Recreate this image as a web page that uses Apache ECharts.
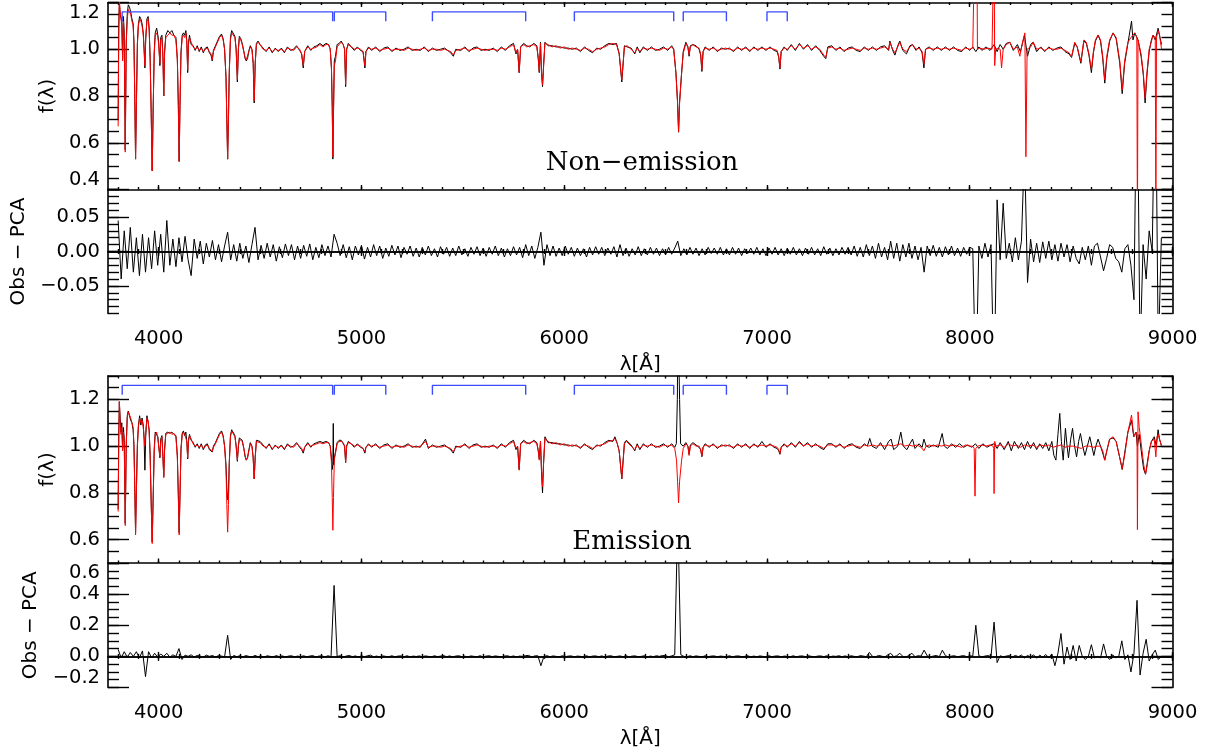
<!DOCTYPE html>
<html>
<head>
<meta charset="utf-8">
<script src="https://cdn.jsdelivr.net/npm/echarts@6/dist/echarts.min.js"></script>
<style>
html, body { margin: 0; padding: 0; background: #fff; }
#chart { width: 1210px; height: 752px; }
</style>
</head>
<body>
<div id="chart"></div>
<script>
// normalised spectra, [wavelength, flux]
var pcaNon = [[3800,0.67],[3803,1.05],[3806,1.21],[3810,1.16],[3814,1.13],[3818,1.10],[3822,0.95],[3826,1.12],[3830,1.05],[3835,0.56],[3840,1.02],[3845,1.13],[3850,1.17],[3856,1.17],[3862,1.15],[3868,1.12],[3874,1.10],[3878,1.02],[3882,0.80],[3886,0.53],[3890,0.75],[3895,1.02],[3900,1.10],[3906,1.13],[3912,1.12],[3918,1.10],[3924,1.06],[3928,1.00],[3932,0.93],[3936,1.05],[3942,1.12],[3948,1.13],[3953,1.08],[3958,0.95],[3963,0.72],[3968,0.48],[3973,0.75],[3978,0.98],[3983,1.06],[3990,1.07],[3996,1.05],[4000,1.02],[4006,0.94],[4010,1.04],[4016,1.05],[4021,0.96],[4025,0.80],[4029,0.98],[4035,1.05],[4045,1.06],[4055,1.07],[4065,1.06],[4075,1.06],[4085,1.04],[4092,0.95],[4097,0.75],[4101,0.52],[4105,0.75],[4110,0.98],[4116,1.05],[4122,1.06],[4128,1.05],[4134,1.07],[4139,1.02],[4143,0.91],[4147,1.02],[4152,1.05],[4160,1.03],[4170,1.01],[4180,1.0],[4190,1.01],[4200,0.995],[4210,1.005],[4220,0.99],[4230,1.0],[4240,1.005],[4250,0.99],[4258,0.98],[4264,0.955],[4270,0.99],[4280,1.01],[4290,1.03],[4300,1.05],[4310,1.06],[4318,1.04],[4325,1.0],[4332,0.88],[4336,0.70],[4340,0.53],[4344,0.70],[4348,0.90],[4354,1.04],[4360,1.07],[4368,1.07],[4376,1.05],[4382,1.0],[4388,0.87],[4393,1.0],[4398,1.05],[4405,1.04],[4412,1.02],[4420,0.99],[4426,0.965],[4432,0.955],[4438,0.96],[4445,0.99],[4452,1.01],[4460,1.0],[4466,0.94],[4471,0.78],[4476,0.94],[4482,1.02],[4490,1.03],[4500,1.02],[4515,1.0],[4530,0.995],[4545,1.005],[4560,0.99],[4575,1.0],[4590,0.995],[4605,1.0],[4620,0.99],[4635,1.005],[4650,1.0],[4665,0.995],[4680,1.01],[4695,1.0],[4705,0.98],[4713,0.93],[4720,0.99],[4735,1.01],[4750,1.0],[4765,1.005],[4780,1.01],[4795,1.02],[4810,1.01],[4825,1.02],[4838,1.02],[4846,1.0],[4852,0.92],[4856,0.75],[4859,0.54],[4862,0.72],[4866,0.93],[4872,0.95],[4880,1.01],[4890,1.02],[4900,1.03],[4910,1.02],[4917,1.0],[4922,0.85],[4927,1.0],[4935,1.02],[4950,1.01],[4965,1.0],[4980,1.005],[4995,1.0],[5008,0.99],[5017,0.93],[5022,0.99],[5035,1.005],[5050,1.0],[5070,1.005],[5090,0.995],[5110,1.0],[5130,1.005],[5150,0.995],[5170,1.0],[5190,1.0],[5210,0.995],[5230,1.005],[5250,1.0],[5270,0.995],[5290,1.0],[5310,1.005],[5330,0.995],[5350,1.0],[5370,1.0],[5390,0.995],[5410,1.0],[5440,0.99],[5453,0.976],[5465,0.995],[5490,1.0],[5510,1.005],[5530,0.995],[5550,1.0],[5570,1.005],[5590,1.0],[5610,0.995],[5630,1.0],[5650,1.0],[5670,0.995],[5690,1.005],[5710,1.0],[5730,1.01],[5750,1.02],[5762,0.985],[5770,1.0],[5778,0.90],[5785,1.01],[5800,1.02],[5815,1.01],[5830,1.015],[5850,1.02],[5865,1.01],[5872,0.96],[5877,0.905],[5883,1.026],[5888,0.90],[5893,0.847],[5898,0.92],[5905,1.026],[5920,1.02],[5940,1.01],[5960,1.015],[5980,1.005],[6000,1.01],[6020,1.0],[6040,1.005],[6060,1.0],[6080,0.995],[6100,1.005],[6120,1.0],[6140,0.99],[6160,1.0],[6180,1.005],[6200,1.01],[6220,1.02],[6240,1.025],[6258,1.02],[6271,0.983],[6284,0.869],[6297,1.01],[6310,1.015],[6330,1.0],[6348,0.985],[6360,1.005],[6373,0.99],[6390,1.005],[6410,1.0],[6430,1.005],[6450,1.0],[6470,0.995],[6490,1.005],[6510,1.0],[6530,1.01],[6540,1.0],[6551,0.898],[6559,0.77],[6564,0.648],[6569,0.77],[6579,0.898],[6587,0.983],[6600,1.025],[6610,1.01],[6616,0.976],[6622,1.01],[6635,1.02],[6650,1.01],[6665,1.005],[6673,0.98],[6679,0.912],[6685,0.99],[6695,1.005],[6715,1.0],[6735,1.005],[6755,0.995],[6775,1.0],[6795,1.005],[6815,1.0],[6835,0.995],[6855,1.005],[6875,1.0],[6895,1.005],[6915,0.995],[6935,1.005],[6955,1.0],[6975,1.005],[6995,1.0],[7015,1.005],[7035,1.0],[7050,0.995],[7058,0.97],[7064,0.92],[7070,0.99],[7085,1.005],[7100,1.0],[7120,1.015],[7140,1.0],[7160,1.02],[7180,1.005],[7200,1.015],[7220,1.0],[7240,1.01],[7260,1.0],[7280,0.975],[7290,0.965],[7300,1.005],[7320,1.01],[7340,1.0],[7360,1.005],[7380,0.995],[7400,1.0],[7420,1.005],[7440,1.0],[7460,0.995],[7480,1.005],[7500,1.0],[7520,1.005],[7540,1.0],[7560,1.005],[7580,1.01],[7600,1.0],[7606,1.03],[7620,1.0],[7631,0.985],[7645,1.01],[7655,1.03],[7670,1.0],[7688,0.99],[7705,1.01],[7718,1.02],[7735,1.0],[7750,1.005],[7765,0.99],[7774,0.935],[7782,1.0],[7800,1.005],[7820,1.0],[7840,1.005],[7860,1.0],[7880,1.005],[7900,1.0],[7920,1.005],[7940,1.0],[7960,0.995],[7980,1.005],[8000,1.0],[8015,1.005],[8023,1.0],[8025,1.5],[8035,1.5],[8038,1.0],[8050,1.005],[8070,1.0],[8090,1.005],[8110,1.0],[8118,1.0],[8120,1.5],[8123,0.93],[8128,1.0],[8140,1.005],[8150,1.0],[8157,0.92],[8165,1.0],[8180,1.02],[8198,1.03],[8215,1.0],[8235,1.01],[8247,0.97],[8258,1.02],[8272,1.07],[8277,0.54],[8283,1.0],[8300,1.01],[8313,1.03],[8330,1.0],[8350,1.005],[8370,0.995],[8390,1.005],[8410,1.0],[8430,1.0],[8450,1.005],[8470,0.995],[8490,0.985],[8502,0.968],[8510,1.0],[8518,1.03],[8530,1.01],[8540,0.975],[8548,0.947],[8555,0.99],[8563,1.04],[8575,1.03],[8588,0.98],[8600,0.914],[8610,0.99],[8620,1.04],[8633,1.061],[8645,1.04],[8656,0.97],[8666,0.869],[8676,0.97],[8690,1.04],[8707,1.069],[8722,1.05],[8740,0.95],[8752,0.826],[8764,0.95],[8780,1.03],[8798,1.054],[8814,1.07],[8824,1.05],[8827,0.2],[8830,1.04],[8845,0.98],[8856,0.9],[8865,0.79],[8874,0.9],[8885,1.0],[8896,1.033],[8904,1.06],[8915,1.05],[8918,0.2],[8921,1.05],[8929,1.08],[8936,1.06],[8946,1.0]]

var obsNon = [[3800,0.7],[3803,1.1],[3806,1.2],[3810,1.15],[3814,1.15],[3818,1.12],[3822,0.96],[3826,1.14],[3830,1.07],[3835,0.57],[3840,1.03],[3845,1.15],[3850,1.19],[3856,1.18],[3862,1.16],[3868,1.13],[3874,1.11],[3878,1.03],[3882,0.81],[3886,0.53],[3890,0.76],[3895,1.03],[3900,1.11],[3906,1.14],[3912,1.13],[3918,1.11],[3924,1.07],[3928,1.0],[3932,0.92],[3936,1.04],[3942,1.13],[3948,1.14],[3953,1.09],[3958,0.96],[3963,0.73],[3968,0.48],[3973,0.76],[3978,0.99],[3983,1.07],[3990,1.09],[3996,1.06],[4000,1.03],[4006,0.93],[4010,1.05],[4016,1.06],[4021,0.97],[4025,0.80],[4029,0.99],[4035,1.06],[4045,1.08],[4055,1.07],[4065,1.08],[4075,1.06],[4085,1.05],[4092,0.96],[4097,0.76],[4101,0.52],[4105,0.76],[4110,0.99],[4116,1.06],[4122,1.07],[4128,1.06],[4134,1.08],[4139,1.03],[4143,0.9],[4147,1.03],[4152,1.06],[4160,1.02],[4170,1.015],[4180,0.995],[4190,1.015],[4200,0.99],[4210,1.01],[4220,0.985],[4230,1.005],[4240,1.01],[4250,0.985],[4258,0.975],[4264,0.95],[4270,0.995],[4280,1.015],[4290,1.035],[4300,1.055],[4310,1.065],[4318,1.045],[4325,1.0],[4332,0.88],[4336,0.7],[4340,0.53],[4344,0.7],[4348,0.9],[4354,1.05],[4360,1.08],[4368,1.075],[4376,1.055],[4382,1.0],[4388,0.86],[4393,1.0],[4398,1.055],[4405,1.045],[4412,1.025],[4420,0.99],[4426,0.96],[4432,0.95],[4438,0.96],[4445,0.995],[4452,1.015],[4460,1.0],[4466,0.94],[4471,0.77],[4476,0.94],[4482,1.025],[4490,1.035],[4500,1.02],[4515,1.005],[4530,0.99],[4545,1.01],[4560,0.985],[4575,1.005],[4590,0.99],[4605,1.005],[4620,0.985],[4635,1.01],[4650,0.995],[4665,1.0],[4680,1.015],[4695,0.995],[4705,0.98],[4713,0.92],[4720,0.99],[4735,1.015],[4750,0.995],[4765,1.01],[4780,1.015],[4795,1.025],[4810,1.015],[4825,1.025],[4838,1.02],[4846,1.0],[4852,0.92],[4856,0.75],[4859,0.53],[4862,0.73],[4866,0.95],[4872,0.97],[4880,1.02],[4890,1.025],[4900,1.035],[4910,1.02],[4917,1.0],[4922,0.84],[4927,1.0],[4935,1.025],[4950,1.01],[4965,0.995],[4980,1.01],[4995,0.995],[5008,0.99],[5017,0.92],[5022,0.99],[5035,1.01],[5050,0.995],[5070,1.01],[5090,0.99],[5110,1.005],[5130,1.01],[5150,0.99],[5170,1.005],[5190,0.995],[5210,1.0],[5230,1.01],[5250,0.995],[5270,1.0],[5290,0.995],[5310,1.01],[5330,0.99],[5350,1.005],[5370,0.995],[5390,1.0],[5410,1.005],[5440,0.985],[5453,0.97],[5465,1.0],[5490,0.995],[5510,1.01],[5530,0.99],[5550,1.005],[5570,1.01],[5590,0.995],[5610,1.0],[5630,0.995],[5650,1.005],[5670,0.99],[5690,1.01],[5710,0.995],[5730,1.015],[5750,1.025],[5762,0.98],[5770,1.0],[5778,0.9],[5785,1.01],[5800,1.025],[5815,1.015],[5830,1.01],[5850,1.025],[5865,1.015],[5872,0.96],[5877,0.9],[5883,1.03],[5888,0.9],[5893,0.84],[5898,0.93],[5905,1.03],[5920,1.015],[5940,1.015],[5960,1.01],[5980,1.01],[6000,1.005],[6020,1.005],[6040,1.0],[6060,1.005],[6080,0.99],[6100,1.01],[6120,0.995],[6140,0.985],[6160,1.005],[6180,1.0],[6200,1.015],[6220,1.025],[6240,1.02],[6258,1.025],[6271,0.98],[6284,0.86],[6297,1.015],[6310,1.01],[6330,1.005],[6348,0.98],[6360,1.01],[6373,0.985],[6390,1.01],[6410,0.995],[6430,1.01],[6450,0.995],[6470,1.0],[6490,1.01],[6510,0.995],[6530,1.015],[6540,1.0],[6551,0.9],[6559,0.775],[6564,0.645],[6569,0.775],[6579,0.9],[6587,0.99],[6600,1.03],[6610,1.01],[6616,0.97],[6622,1.015],[6635,1.02],[6650,1.015],[6665,1.0],[6673,0.975],[6679,0.905],[6685,0.99],[6695,1.01],[6715,0.995],[6735,1.01],[6755,0.99],[6775,1.005],[6795,1.0],[6815,1.005],[6835,0.99],[6855,1.01],[6875,0.995],[6895,1.01],[6915,0.99],[6935,1.01],[6955,0.995],[6975,1.01],[6995,0.995],[7015,1.01],[7035,0.995],[7050,0.99],[7058,0.965],[7064,0.915],[7070,0.99],[7085,1.01],[7100,0.995],[7120,1.02],[7140,0.995],[7160,1.025],[7180,1.0],[7200,1.02],[7220,0.995],[7240,1.015],[7260,0.995],[7280,0.97],[7290,0.96],[7300,1.01],[7320,1.015],[7340,0.995],[7360,1.01],[7380,0.99],[7400,1.005],[7420,1.01],[7440,0.995],[7460,0.99],[7480,1.01],[7500,0.995],[7520,1.01],[7540,0.995],[7560,1.01],[7580,1.015],[7600,0.995],[7606,1.035],[7620,0.995],[7631,0.975],[7645,1.015],[7655,1.035],[7670,0.995],[7688,0.98],[7705,1.015],[7718,1.02],[7735,0.995],[7750,1.01],[7765,0.985],[7774,0.92],[7782,1.0],[7800,1.01],[7820,0.995],[7840,1.01],[7860,0.995],[7880,1.01],[7900,0.995],[7920,1.01],[7940,0.995],[7960,0.99],[7980,1.01],[8000,0.995],[8015,1.01],[8030,0.99],[8045,1.01],[8060,0.995],[8080,1.01],[8100,0.995],[8120,1.02],[8135,0.99],[8150,1.02],[8165,1.0],[8180,1.025],[8198,1.03],[8215,0.995],[8235,1.02],[8250,0.99],[8270,1.06],[8285,0.97],[8300,1.02],[8313,1.03],[8330,0.99],[8350,1.01],[8370,0.99],[8390,1.01],[8410,0.995],[8430,1.005],[8450,1.01],[8470,0.99],[8490,0.98],[8502,0.965],[8510,0.995],[8518,1.025],[8530,1.01],[8540,0.97],[8548,0.94],[8555,0.985],[8563,1.035],[8575,1.025],[8588,0.975],[8600,0.9],[8610,0.985],[8620,1.035],[8633,1.06],[8645,1.035],[8656,0.96],[8666,0.855],[8676,0.96],[8690,1.035],[8707,1.07],[8722,1.045],[8740,0.94],[8752,0.81],[8764,0.94],[8780,1.025],[8798,1.12],[8805,1.04],[8814,1.07],[8830,1.04],[8845,0.97],[8856,0.89],[8865,0.77],[8874,0.89],[8885,0.99],[8896,1.04],[8904,1.06],[8915,1.04],[8929,1.09],[8936,1.06],[8946,1.02]]

var pcaEm = [[3800,0.72],[3803,1.0],[3806,1.19],[3810,1.10],[3814,1.05],[3818,1.08],[3822,0.98],[3826,1.06],[3830,1.02],[3835,0.66],[3840,1.0],[3845,1.12],[3850,1.147],[3856,1.14],[3862,1.12],[3868,1.10],[3874,1.08],[3878,1.0],[3882,0.82],[3886,0.62],[3890,0.8],[3895,1.0],[3900,1.08],[3906,1.12],[3912,1.10],[3918,1.11],[3924,1.08],[3928,1.04],[3932,1.0],[3936,1.06],[3942,1.12],[3948,1.11],[3953,1.06],[3958,0.95],[3963,0.75],[3968,0.583],[3973,0.78],[3978,0.98],[3983,1.05],[3990,1.06],[3996,1.03],[4000,1.0],[4006,0.955],[4010,1.02],[4016,1.04],[4021,0.95],[4025,0.865],[4029,0.98],[4035,1.05],[4045,1.055],[4055,1.06],[4065,1.05],[4075,1.055],[4085,1.04],[4092,0.95],[4097,0.78],[4101,0.62],[4105,0.78],[4110,0.98],[4116,1.05],[4122,1.06],[4128,1.05],[4134,1.055],[4139,1.02],[4143,0.95],[4147,1.02],[4152,1.045],[4160,1.03],[4170,1.01],[4180,1.0],[4190,1.005],[4200,0.995],[4210,1.005],[4220,0.99],[4230,1.0],[4240,1.005],[4250,0.99],[4258,0.985],[4264,0.977],[4270,0.995],[4280,1.01],[4290,1.03],[4300,1.05],[4310,1.06],[4318,1.04],[4325,1.0],[4332,0.9],[4336,0.75],[4340,0.632],[4344,0.75],[4348,0.92],[4354,1.04],[4360,1.065],[4368,1.06],[4376,1.04],[4382,1.0],[4388,0.94],[4393,1.0],[4398,1.03],[4405,1.03],[4412,1.02],[4420,0.99],[4426,0.96],[4432,0.94],[4438,0.95],[4445,0.98],[4452,1.01],[4460,1.0],[4466,0.95],[4471,0.86],[4476,0.95],[4482,1.02],[4490,1.025],[4500,1.015],[4515,1.0],[4530,0.995],[4545,1.005],[4560,0.99],[4575,1.0],[4590,0.995],[4605,1.0],[4620,0.99],[4635,1.005],[4650,1.0],[4665,0.995],[4680,1.01],[4695,1.0],[4705,0.99],[4713,0.976],[4720,0.995],[4735,1.01],[4750,1.0],[4765,1.005],[4780,1.01],[4795,1.015],[4810,1.01],[4825,1.015],[4838,1.015],[4846,1.0],[4852,0.93],[4856,0.78],[4859,0.64],[4862,0.78],[4866,0.94],[4872,0.97],[4880,1.01],[4890,1.02],[4900,1.02],[4910,1.015],[4917,1.0],[4922,0.93],[4927,1.0],[4935,1.015],[4950,1.01],[4965,1.0],[4980,1.005],[4995,1.0],[5008,0.99],[5017,0.976],[5022,0.995],[5035,1.005],[5050,1.0],[5070,1.005],[5090,0.995],[5110,1.0],[5130,1.005],[5150,0.995],[5170,1.0],[5190,1.0],[5210,0.995],[5230,1.005],[5250,1.0],[5270,0.995],[5290,1.0],[5316,1.02],[5330,0.995],[5350,1.0],[5370,1.0],[5390,0.995],[5410,1.0],[5440,0.99],[5453,0.976],[5465,0.995],[5490,1.0],[5510,1.005],[5530,0.995],[5550,1.0],[5570,1.005],[5590,1.0],[5610,0.995],[5630,1.0],[5650,1.0],[5670,0.995],[5690,1.005],[5710,1.0],[5730,1.01],[5750,1.02],[5762,0.99],[5770,1.0],[5778,0.897],[5785,1.01],[5800,1.02],[5815,1.01],[5830,1.015],[5850,1.02],[5865,1.01],[5872,0.98],[5877,0.94],[5883,1.02],[5888,0.9],[5893,0.826],[5898,0.93],[5905,1.033],[5920,1.02],[5940,1.01],[5960,1.015],[5980,1.005],[6000,1.01],[6020,1.0],[6040,1.005],[6060,1.0],[6080,0.995],[6100,1.005],[6120,1.0],[6140,0.99],[6160,1.0],[6180,1.005],[6200,1.01],[6220,1.02],[6240,1.025],[6250,1.033],[6262,1.01],[6271,0.98],[6284,0.862],[6297,1.01],[6307,1.02],[6330,1.0],[6348,0.985],[6360,1.005],[6373,0.99],[6390,1.005],[6410,1.0],[6430,1.005],[6450,1.0],[6470,0.995],[6490,1.005],[6510,1.0],[6530,1.005],[6545,0.99],[6554,0.94],[6559,0.85],[6564,0.757],[6569,0.85],[6579,0.94],[6587,0.99],[6600,1.01],[6610,1.0],[6616,0.96],[6622,1.0],[6635,1.01],[6650,1.0],[6665,1.0],[6673,0.985],[6679,0.957],[6685,0.995],[6695,1.005],[6715,1.0],[6735,1.005],[6755,0.995],[6775,1.0],[6795,1.005],[6815,1.0],[6835,0.995],[6855,1.005],[6875,1.0],[6895,1.005],[6915,0.995],[6935,1.005],[6955,1.0],[6975,1.005],[6995,1.0],[7015,1.005],[7035,1.0],[7050,0.995],[7058,0.985],[7064,0.968],[7070,0.995],[7085,1.005],[7100,1.0],[7120,1.01],[7140,1.0],[7160,1.015],[7180,1.0],[7200,1.01],[7220,1.0],[7240,1.005],[7260,1.0],[7280,0.99],[7300,1.005],[7320,1.005],[7340,1.0],[7360,1.005],[7380,0.995],[7400,1.0],[7420,1.005],[7440,1.0],[7460,0.995],[7480,1.005],[7500,1.0],[7520,1.005],[7540,1.0],[7560,1.005],[7580,1.0],[7600,1.005],[7620,1.0],[7640,1.005],[7660,1.01],[7680,1.0],[7700,1.005],[7720,1.0],[7740,1.005],[7760,0.995],[7774,0.98],[7785,1.0],[7800,1.005],[7820,1.0],[7840,1.005],[7860,1.0],[7880,1.005],[7900,1.0],[7920,1.005],[7940,1.0],[7960,0.995],[7980,1.005],[8000,1.0],[8015,1.0],[8022,0.99],[8026,0.786],[8030,0.99],[8040,1.0],[8060,1.005],[8080,1.0],[8100,1.005],[8115,1.0],[8118,0.99],[8120,0.797],[8123,1.02],[8130,1.0],[8150,1.005],[8170,0.995],[8190,1.01],[8210,1.0],[8230,1.005],[8250,0.995],[8270,1.005],[8290,1.0],[8310,1.005],[8330,0.995],[8350,1.005],[8370,1.0],[8390,1.005],[8410,0.995],[8430,1.0],[8450,1.005],[8470,0.995],[8490,1.0],[8510,1.0],[8530,0.995],[8550,0.99],[8570,1.0],[8590,1.0],[8610,0.995],[8630,1.0],[8645,1.0],[8656,0.98],[8666,0.94],[8676,0.98],[8690,1.03],[8707,1.04],[8722,1.02],[8740,0.95],[8752,0.904],[8764,0.96],[8780,1.06],[8798,1.133],[8809,1.04],[8820,1.06],[8825,1.05],[8827,0.643],[8830,1.147],[8836,1.08],[8850,0.98],[8858,0.92],[8867,0.88],[8876,0.92],[8885,0.98],[8896,1.02],[8910,1.03],[8918,0.954],[8924,1.04],[8929,1.05],[8936,1.03],[8946,1.0]]

var obsEm = [[3800,0.73],[3803,1.05],[3806,1.19],[3810,1.12],[3814,1.06],[3818,1.1],[3822,0.99],[3826,1.08],[3830,1.03],[3835,0.67],[3840,1.01],[3845,1.13],[3850,1.15],[3856,1.13],[3862,1.11],[3868,1.1],[3874,1.07],[3878,1.0],[3882,0.83],[3886,0.63],[3890,0.81],[3895,1.01],[3900,1.09],[3906,1.13],[3912,1.09],[3918,1.12],[3924,1.09],[3928,1.03],[3932,0.897],[3936,1.04],[3942,1.13],[3948,1.1],[3953,1.07],[3958,0.96],[3963,0.76],[3968,0.59],[3973,0.79],[3978,0.99],[3983,1.06],[3990,1.065],[3996,1.04],[4000,1.0],[4006,0.95],[4010,1.03],[4016,1.045],[4021,0.955],[4025,0.87],[4029,0.985],[4035,1.055],[4045,1.06],[4055,1.055],[4065,1.06],[4075,1.05],[4085,1.045],[4092,0.96],[4097,0.79],[4101,0.63],[4105,0.79],[4110,0.99],[4116,1.055],[4122,1.065],[4128,1.045],[4134,1.06],[4139,1.015],[4143,0.945],[4147,1.025],[4152,1.05],[4160,1.025],[4170,1.015],[4180,0.995],[4190,1.01],[4200,0.99],[4210,1.01],[4220,0.985],[4230,1.005],[4240,1.01],[4250,0.985],[4258,0.98],[4264,0.975],[4270,1.0],[4280,1.015],[4290,1.035],[4300,1.055],[4310,1.065],[4318,1.045],[4325,1.0],[4332,0.92],[4336,0.82],[4340,0.77],[4344,0.8],[4348,0.93],[4354,1.045],[4360,1.07],[4368,1.065],[4376,1.045],[4382,1.0],[4388,0.935],[4393,1.0],[4398,1.035],[4405,1.035],[4412,1.025],[4420,0.99],[4426,0.955],[4432,0.94],[4438,0.95],[4445,0.985],[4452,1.015],[4460,1.0],[4466,0.95],[4471,0.86],[4476,0.955],[4482,1.025],[4490,1.03],[4500,1.02],[4515,1.005],[4530,0.99],[4545,1.01],[4560,0.985],[4575,1.005],[4590,0.99],[4605,1.005],[4620,0.985],[4635,1.01],[4650,0.995],[4665,1.0],[4680,1.015],[4695,0.995],[4705,0.985],[4713,0.97],[4720,0.995],[4735,1.015],[4750,0.995],[4765,1.01],[4780,1.015],[4795,1.02],[4810,1.015],[4825,1.02],[4838,1.015],[4846,1.0],[4852,0.95],[4856,0.9],[4859,0.92],[4861,1.097],[4863,0.92],[4866,0.95],[4872,0.975],[4880,1.015],[4890,1.025],[4900,1.025],[4910,1.01],[4917,1.0],[4922,0.93],[4927,1.0],[4935,1.02],[4950,1.01],[4965,0.995],[4980,1.01],[4995,0.995],[5008,0.99],[5017,0.97],[5022,0.995],[5035,1.01],[5050,0.995],[5070,1.01],[5090,0.99],[5110,1.005],[5130,1.01],[5150,0.99],[5170,1.005],[5190,0.995],[5210,1.0],[5230,1.01],[5250,0.995],[5270,1.0],[5290,0.995],[5316,1.03],[5330,0.99],[5350,1.005],[5370,0.995],[5390,1.0],[5410,1.005],[5440,0.985],[5453,0.97],[5465,1.0],[5490,0.995],[5510,1.01],[5530,0.99],[5550,1.005],[5570,1.01],[5590,0.995],[5610,1.0],[5630,0.995],[5650,1.005],[5670,0.99],[5690,1.01],[5710,0.995],[5730,1.015],[5750,1.025],[5762,0.985],[5770,1.0],[5778,0.9],[5785,1.01],[5800,1.025],[5815,1.015],[5830,1.01],[5850,1.025],[5865,1.015],[5872,0.98],[5877,0.945],[5883,1.02],[5888,0.89],[5893,0.8],[5898,0.92],[5905,1.04],[5920,1.015],[5940,1.015],[5960,1.01],[5980,1.01],[6000,1.005],[6020,1.005],[6040,1.0],[6060,1.005],[6080,0.99],[6100,1.01],[6120,0.995],[6140,0.985],[6160,1.005],[6180,1.0],[6200,1.015],[6220,1.025],[6240,1.02],[6250,1.04],[6262,1.01],[6271,0.98],[6284,0.86],[6297,1.015],[6307,1.025],[6330,1.005],[6348,0.98],[6360,1.01],[6373,0.985],[6390,1.01],[6410,0.995],[6430,1.01],[6450,0.995],[6470,1.0],[6490,1.01],[6510,0.995],[6530,1.01],[6545,0.995],[6553,1.01],[6558,1.2],[6561,1.6],[6566,1.6],[6569,1.2],[6574,1.01],[6587,1.0],[6600,1.015],[6610,1.0],[6616,0.965],[6622,1.005],[6635,1.015],[6650,1.005],[6665,0.995],[6673,0.985],[6679,0.955],[6685,0.995],[6695,1.01],[6715,0.995],[6735,1.01],[6755,0.99],[6775,1.005],[6795,1.0],[6815,1.005],[6835,0.99],[6855,1.01],[6875,0.995],[6895,1.01],[6915,0.99],[6935,1.01],[6955,0.995],[6975,1.02],[6995,0.995],[7015,1.01],[7035,0.995],[7050,0.99],[7058,0.98],[7064,0.965],[7070,0.995],[7085,1.01],[7100,0.995],[7120,1.015],[7140,0.995],[7160,1.02],[7180,1.0],[7200,1.015],[7220,0.995],[7240,1.01],[7260,0.995],[7280,0.985],[7300,1.01],[7320,1.01],[7340,0.995],[7360,1.01],[7380,0.99],[7400,1.005],[7420,1.01],[7440,0.995],[7460,0.99],[7480,1.01],[7495,1.0],[7507,1.033],[7518,1.0],[7540,0.99],[7560,1.015],[7580,0.985],[7600,1.02],[7612,1.03],[7625,0.985],[7645,1.0],[7660,1.06],[7672,1.0],[7690,0.985],[7705,1.01],[7718,1.03],[7730,0.99],[7750,1.01],[7765,0.995],[7774,1.03],[7785,1.0],[7800,0.995],[7820,1.005],[7845,0.995],[7864,1.054],[7875,1.0],[7890,0.99],[7910,1.01],[7930,0.995],[7950,1.01],[7970,0.995],[7990,1.005],[8010,0.995],[8028,1.01],[8045,0.99],[8065,1.01],[8085,0.995],[8105,1.005],[8120,1.01],[8135,0.99],[8150,1.015],[8170,0.985],[8190,1.02],[8205,0.98],[8220,1.02],[8240,0.99],[8255,1.015],[8270,0.985],[8285,1.02],[8300,0.99],[8315,1.015],[8330,0.985],[8345,1.01],[8360,0.99],[8375,1.015],[8390,0.98],[8405,1.02],[8415,0.96],[8425,0.94],[8435,1.05],[8444,1.14],[8452,1.02],[8461,0.94],[8472,1.076],[8480,1.0],[8487,0.95],[8498,1.03],[8507,1.076],[8517,1.0],[8527,0.954],[8537,1.02],[8546,1.054],[8557,1.0],[8568,0.96],[8580,1.0],[8592,1.04],[8602,1.0],[8612,0.96],[8622,1.0],[8633,1.03],[8645,1.0],[8656,0.97],[8666,0.94],[8676,0.98],[8690,1.03],[8707,1.035],[8722,1.02],[8740,0.95],[8752,0.9],[8764,0.97],[8780,1.06],[8798,1.11],[8809,1.04],[8820,1.06],[8827,1.0],[8836,1.05],[8850,0.95],[8858,0.9],[8867,0.88],[8876,0.93],[8885,0.98],[8896,1.02],[8910,1.04],[8920,1.0],[8929,1.07],[8936,1.03],[8946,1.0]]

// Obs - PCA residuals, sampled from 3800 A every 15 A
var resStart = 3800
var resStep = 15
var resNon = [
  0.045,-0.04,0.03,-0.025,0.035,-0.03,0.02,-0.035,0.025,-0.03,0.02,-0.025,0.03,-0.02,0.025,-0.03,0.045,-0.02,0.018,-0.022,
  0.02,-0.015,0.022,-0.012,-0.035,0.018,-0.01,0.015,-0.018,0.012,-0.008,0.016,-0.012,0.01,-0.015,0.008,0.028,-0.012,0.01,-0.014,
  0.012,-0.01,0.008,-0.016,0.01,0.035,-0.012,0.009,-0.01,0.012,-0.008,0.01,-0.014,0.007,-0.009,0.011,-0.006,0.01,-0.012,0.008,
  -0.01,0.009,-0.007,0.011,-0.012,0.006,-0.009,0.01,-0.006,0.008,-0.008,0.025,0.012,-0.006,0.01,-0.009,0.007,-0.012,0.008,-0.005,
  0.009,-0.011,0.006,-0.008,0.01,-0.006,0.008,-0.01,0.005,-0.007,0.009,-0.005,0.008,-0.009,0.006,-0.004,0.008,-0.007,0.005,-0.008,
  0.006,-0.005,0.008,-0.006,0.004,-0.008,0.007,-0.004,0.006,-0.007,0.005,-0.006,0.008,-0.005,0.004,-0.007,0.006,-0.004,0.007,-0.006,
  0.005,-0.007,0.006,-0.004,0.008,-0.006,0.005,-0.008,0.004,-0.006,0.007,-0.005,0.006,-0.009,0.01,-0.006,0.008,-0.01,0.006,0.028,
  -0.02,0.01,-0.006,0.008,-0.007,0.005,-0.006,0.008,-0.004,0.006,-0.007,0.005,-0.006,0.004,-0.008,0.006,-0.005,0.007,-0.004,0.006,
  -0.006,0.005,-0.004,0.007,-0.008,0.01,-0.006,0.005,-0.007,0.004,-0.005,0.007,-0.006,0.004,-0.005,0.006,-0.004,0.005,-0.006,0.004,
  -0.005,0.006,-0.004,0.005,0.015,-0.006,0.004,-0.005,0.006,-0.004,0.005,-0.006,0.004,-0.005,0.006,-0.003,0.005,-0.004,0.006,-0.005,
  0.004,-0.005,0.006,-0.004,0.005,-0.006,0.004,-0.003,0.005,-0.004,0.006,-0.005,0.004,-0.006,0.005,-0.004,0.006,-0.005,0.004,-0.006,
  0.005,-0.004,0.006,-0.005,0.004,-0.006,0.005,-0.004,0.006,-0.005,0.004,-0.006,0.007,-0.004,0.005,-0.006,0.004,-0.005,0.006,-0.004,
  0.006,-0.005,0.008,-0.007,0.006,-0.008,0.01,-0.006,0.008,-0.01,0.012,-0.008,0.006,-0.012,0.015,-0.01,0.012,-0.014,0.01,-0.008,
  0.012,-0.01,0.008,-0.012,0.006,-0.03,0.008,-0.006,0.009,-0.007,0.006,-0.008,0.007,-0.005,0.008,-0.006,0.005,-0.007,0.006,-0.004,
  0.006,0.004,-0.2,0.008,-0.01,0.012,-0.008,0.01,-0.2,0.075,-0.012,0.07,-0.01,0.012,-0.015,0.02,-0.012,0.015,0.15,-0.045,
  0.018,-0.015,0.012,-0.016,0.014,-0.01,0.015,-0.012,0.01,-0.014,0.012,-0.008,0.01,-0.015,0.008,-0.01,-0.018,0.006,-0.012,0.008,
  -0.02,0.008,0.012,-0.008,-0.028,-0.01,0.01,0.006,-0.01,-0.015,-0.03,0.004,0.01,-0.02,-0.07,0.3,-0.15,0.01,-0.04,0.03,0.0,0.3,-0.15,0.02
]
var resEm = [
  0.045,-0.01,0.03,-0.005,0.025,0.0,0.03,-0.01,0.035,-0.13,0.03,-0.01,0.02,-0.005,0.015,0.0,0.02,-0.005,0.01,0.0,
  0.05,-0.02,0.008,0.0,0.01,-0.004,0.006,0.002,-0.005,0.008,0.0,0.006,-0.004,0.005,0.002,-0.003,0.136,-0.02,0.006,-0.002,
  0.004,-0.003,0.005,0.0,-0.004,0.006,-0.002,0.003,-0.005,0.004,0.0,-0.003,0.005,-0.002,0.003,-0.004,0.002,0.004,-0.003,0.002,
  -0.002,0.004,-0.003,0.002,0.005,-0.004,0.002,0.003,-0.003,0.004,-0.002,0.456,0.0,0.004,-0.003,0.002,0.006,-0.002,0.003,-0.004,
  0.003,-0.002,0.004,0.008,-0.003,0.002,-0.004,0.003,0.0,-0.002,0.004,-0.003,0.002,0.003,-0.002,0.004,-0.003,0.002,-0.001,0.003,
  -0.002,0.003,0.0,-0.003,0.004,-0.002,0.002,0.005,-0.002,0.003,-0.003,0.002,0.004,-0.002,0.001,-0.003,0.003,0.0,-0.002,0.004,
  -0.003,0.002,0.004,-0.002,0.003,0.0,-0.003,0.002,0.004,-0.002,0.003,-0.004,0.002,0.0,0.005,0.006,-0.004,0.003,0.004,-0.06,
  0.0,0.004,-0.002,0.003,0.0,-0.003,0.004,-0.002,0.002,0.003,-0.003,0.002,0.0,-0.002,0.004,-0.003,0.002,0.003,-0.002,0.003,
  -0.003,0.002,0.004,-0.002,0.0,0.003,-0.002,0.004,-0.003,0.002,0.003,-0.002,0.0,0.004,-0.003,0.002,-0.002,0.004,0.0,0.006,
  0.004,-0.002,0.003,0.01,0.9,0.01,0.0,-0.003,0.004,-0.002,0.003,0.0,-0.003,0.004,-0.002,0.002,0.003,-0.003,0.002,0.0,
  -0.002,0.004,-0.003,0.002,0.003,-0.002,0.0,0.004,-0.003,0.002,-0.002,0.003,0.0,-0.003,0.004,-0.002,0.002,0.003,-0.003,0.002,
  0.0,-0.002,0.004,-0.003,0.002,0.003,-0.002,0.004,0.0,-0.003,0.002,0.003,-0.002,0.004,-0.003,0.002,0.0,0.004,-0.002,0.003,
  -0.002,0.004,0.0,-0.003,0.005,0.002,-0.002,0.026,0.0,-0.003,0.006,0.002,-0.004,0.008,0.02,-0.002,0.004,0.02,0.0,-0.004,
  0.006,0.02,-0.002,0.004,0.002,0.04,0.004,-0.003,0.002,0.006,-0.002,0.04,0.005,-0.004,0.002,0.004,-0.003,0.002,0.005,-0.002,
  0.003,0.002,0.2,0.004,-0.003,0.002,0.005,-0.002,0.22,-0.04,0.004,-0.003,0.002,0.005,-0.004,0.006,-0.002,0.008,-0.01,0.006,
  -0.004,0.01,-0.012,0.008,-0.006,0.012,-0.01,0.015,-0.06,0.02,0.147,-0.05,0.06,-0.02,0.07,-0.03,0.07,0.0,-0.02,0.0,
  0.075,-0.01,0.0,-0.01,0.08,0.0,-0.02,0.01,-0.01,0.0,0.1,-0.02,0.01,-0.1,0.02,0.36,-0.12,0.02,0.11,-0.03,0.01,0.04,-0.02,0.0
]

// fitting windows marked on the flux panels
var bracketStart = [3820, 4866, 5350, 6050, 6587, 7000]
var bracketEnd = [4858, 5120, 5810, 6540, 6800, 7100]

// tick labels
var waveTicks = [4000, 5000, 6000, 7000, 8000, 9000]
var fluxTicksNon = [0.4, 0.6, 0.8, 1.0, 1.2]
var resTicksNon = [-0.05, 0, 0.05]
var fluxTicksEm = [0.6, 0.8, 1.0, 1.2]
var resTicksEm = [-0.2, 0, 0.2, 0.4, 0.6]

var panels = [
  {top: 2.5, height: 187, min: 0.4, max: 1.2, ticks: fluxTicksNon, minor: 0.05, digits: 1, name: 'f(λ)', gap: 47, xName: false, ends: true},
  {top: 189.5, height: 124, min: -0.09, max: 0.09, ticks: resTicksNon, minor: 0.01, digits: 2, name: 'Obs − PCA', gap: 79, xName: true, ends: false},
  {top: 376, height: 187, min: 0.5, max: 1.3, ticks: fluxTicksEm, minor: 0.05, digits: 1, name: 'f(λ)', gap: 47, xName: false, ends: false},
  {top: 563, height: 124.5, min: -0.2, max: 0.6, ticks: resTicksEm, minor: 0.05, digits: 1, name: 'Obs − PCA', gap: 67, xName: true, ends: true}
]

var font = 'DejaVu Sans'
var axisLine = {show: true, lineStyle: {color: '#000', width: 1.6}}
var tickLine = {color: '#000', width: 1.4}

function steps (min, max, step) {
  var out = []
  var n = Math.round((max - min) / step)
  for (var i = 0; i <= n; i++) out.push(+(min + i * step).toFixed(4))
  return out
}
var waveMinor = steps(3800, 9000, 100)

function fmt (digits) {
  return function (v) {
    var s = Math.abs(v).toFixed(digits)
    return v < -1e-9 ? '−' + s : s
  }
}

var grids = []
var xAxes = []
var yAxes = []
panels.forEach(function (p, g) {
  grids.push({left: 108, right: 37.5, top: p.top, height: p.height, outerBoundsMode: 'none'})
  ;['bottom', 'top'].forEach(function (pos) {
    xAxes.push({
      gridIndex: g, type: 'value', min: 3750, max: 9000, position: pos,
      axisLine: axisLine,
      axisTick: {show: true, inside: true, length: 4.5, customValues: waveTicks, lineStyle: tickLine},
      axisLabel: {
        show: pos === 'bottom' && p.xName, customValues: waveTicks, margin: 15,
        formatter: function (v) { return String(v) },
        color: '#000', fontFamily: font, fontSize: 19.5
      },
      splitLine: {show: false},
      name: pos === 'bottom' && p.xName ? 'λ[Å]' : '',
      nameLocation: 'middle', nameGap: 41,
      nameTextStyle: {color: '#000', fontFamily: font, fontSize: 20}
    })
    xAxes.push({
      gridIndex: g, type: 'value', min: 3750, max: 9000, position: pos,
      axisLine: {show: false},
      axisTick: {show: true, inside: true, length: 2.5, customValues: waveMinor, lineStyle: tickLine},
      axisLabel: {show: false}, splitLine: {show: false}
    })
  })
  ;['left', 'right'].forEach(function (pos) {
    var label = {
      show: pos === 'left', customValues: p.ticks, formatter: fmt(p.digits), margin: 8,
      color: '#000', fontFamily: font, fontSize: 19.5
    }
    if (p.ends) {
      label.verticalAlignMinLabel = 'bottom'
      label.verticalAlignMaxLabel = 'top'
    }
    yAxes.push({
      gridIndex: g, type: 'value', min: p.min, max: p.max, position: pos,
      axisLine: axisLine,
      axisTick: {show: true, inside: true, length: 21, customValues: p.ticks, lineStyle: tickLine},
      axisLabel: label,
      splitLine: {show: false},
      name: pos === 'left' ? p.name : '',
      nameLocation: 'middle', nameGap: p.gap, nameRotate: 90,
      nameTextStyle: {color: '#000', fontFamily: font, fontSize: 20}
    })
    yAxes.push({
      gridIndex: g, type: 'value', min: p.min, max: p.max, position: pos,
      axisLine: {show: false},
      axisTick: {show: true, inside: true, length: 11, customValues: steps(p.min, p.max, p.minor), lineStyle: tickLine},
      axisLabel: {show: false}, splitLine: {show: false}
    })
  })
})

function line (data, g, color) {
  return {
    type: 'line', xAxisIndex: g * 4, yAxisIndex: g * 4, data: data,
    showSymbol: false, symbol: 'none', silent: true, animation: false,
    lineStyle: {color: color, width: 1}, itemStyle: {color: color}
  }
}

function residual (values) {
  return values.map(function (v, i) { return [resStart + i * resStep, v] })
}

function brackets (g, hi, lo) {
  return bracketStart.map(function (s, i) {
    var e = bracketEnd[i]
    var s2 = line([[s, lo], [s, hi], [e, hi], [e, lo]], g, '#3c4cff')
    s2.lineStyle.width = 1.4
    return s2
  })
}

var series = [
  line(obsNon, 0, '#000'),
  line(pcaNon, 0, '#ff0000'),
  line(residual(resNon), 1, '#000'),
  line(obsEm, 2, '#000'),
  line(pcaEm, 2, '#ff0000'),
  line(residual(resEm), 3, '#000')
].concat(brackets(0, 1.16, 1.12), brackets(2, 1.26, 1.22))

var chart = echarts.init(document.getElementById('chart'), null, {renderer: 'canvas'})
chart.setOption({
  backgroundColor: '#fff',
  animation: false,
  grid: grids,
  xAxis: xAxes,
  yAxis: yAxes,
  series: series,
  graphic: [
    {type: 'text', x: 642, y: 163, style: {text: 'Non−emission', fontFamily: 'DejaVu Serif', fontSize: 26, fill: '#000', align: 'center', verticalAlign: 'middle'}},
    {type: 'text', x: 632, y: 542, style: {text: 'Emission', fontFamily: 'DejaVu Serif', fontSize: 26, fill: '#000', align: 'center', verticalAlign: 'middle'}}
  ]
})
</script>
</body>
</html>
